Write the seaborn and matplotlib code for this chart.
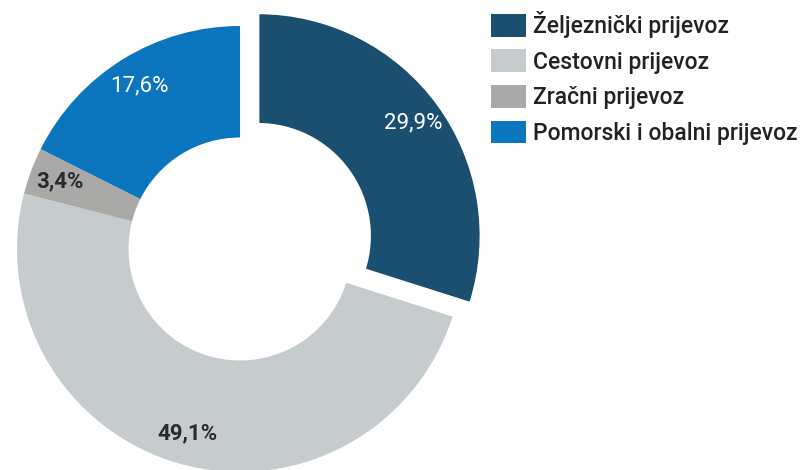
import matplotlib
matplotlib.use("Agg")
import matplotlib.pyplot as plt
import seaborn as sns
from matplotlib.patches import Patch

# shares of freight transport modes (%)
categories = ["Željeznički prijevoz", "Cestovni prijevoz", "Zračni prijevoz", "Pomorski i obalni prijevoz"]
shares = [29.9, 49.1, 3.4, 17.6]
colors = ["#1a4f6f", "#c6ccce", "#a9aaa8", "#0b76bd"]
label_colors = ["white", "#2b2b2b", "#2b2b2b", "white"]
label_weights = ["normal", "bold", "bold", "normal"]
explode = [0.1, 0, 0, 0]

sns.set_theme(style="white")
plt.rcParams["font.family"] = ["Roboto", "DejaVu Sans"]

fig = plt.figure(figsize=(8.05, 4.70), dpi=100)
# axes covers the left part of the figure; donut centre at (240, 249) px, radius 223 px
ax = fig.add_axes([0, 0, 480 / 805, 1])
R = 223

wedges, texts, autotexts = ax.pie(
    shares,
    colors=colors,
    explode=explode,
    startangle=90,
    counterclock=False,
    autopct=lambda p: f"{p:.1f}%".replace(".", ","),
    pctdistance=0.86,
    wedgeprops=dict(width=0.5, linewidth=0),
)
# thin white rim on the pulled-out slice
wedges[0].set_edgecolor("white")
wedges[0].set_linewidth(2)

for t, c, w in zip(autotexts, label_colors, label_weights):
    t.set_color(c)
    t.set_fontweight(w)
    t.set_fontsize(16)

ax.set_xlim(-240 / R, 240 / R)
ax.set_ylim(-221 / R, 249 / R)
ax.set_aspect("auto")
ax.axis("off")

handles = [Patch(facecolor=c, edgecolor="none") for c in colors]
leg = fig.legend(
    handles, categories,
    loc="upper left", bbox_to_anchor=(491 / 805, 1 - 11 / 470),
    frameon=False, fontsize=16.5,
    handlelength=1.53, handleheight=1.15, handletextpad=0.3,
    labelspacing=0.5, borderpad=0, borderaxespad=0,
)
for t in leg.get_texts():
    t.set_color("#222222")
    t.set_fontweight("medium")

fig.savefig("out.png", dpi=100)
